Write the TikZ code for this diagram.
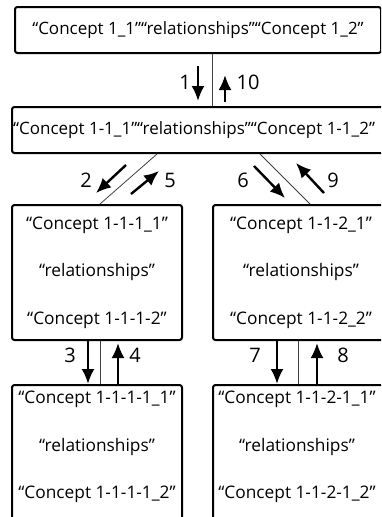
\documentclass[tikz,border=0pt]{standalone}
\usepackage{fontspec}
\setmainfont{Open Sans}
\usetikzlibrary{arrows.meta, positioning}

\begin{document}
\begin{tikzpicture}[x=1pt, y=-1pt, font=\fontsize{17}{20}\selectfont,
  box/.style={draw, line width=2pt, rounded corners=2.5pt, inner sep=0pt},
  three/.style={align=center, font=\fontsize{17.3}{47.5}\selectfont},
  link/.style={line width=0.8pt, black!75},
  flow/.style={line width=2.4pt, -{Latex[length=15pt, width=13pt]}},
  num/.style={font=\fontsize{20}{24}\selectfont}]

  \useasboundingbox (0,0) rectangle (381,517);
  \clip (0,0) rectangle (381,517);

  \node[box, minimum width=366pt, minimum height=46pt] (c1) at (198,30) {“Concept 1\_1”“relationships”“Concept 1\_2”};
  \node[box, minimum width=378pt, minimum height=46pt] (c11) at (201,130) {};
  \node[anchor=west, inner sep=0pt] (t11) at (13,130) {“Concept 1-1\_1”“relationships”“Concept 1-1\_2”};

  \node[box, three, minimum width=170pt, minimum height=135pt] (c111) at (97,272.5) {“Concept 1-1-1\_1”\\“relationships”\\“Concept 1-1-1-2”};
  \node[box, three, minimum width=176pt, minimum height=135pt] (c112) at (301,272.5) {“Concept 1-1-2\_1”\\“relationships”\\“Concept 1-1-2\_2”};

  \node[box, minimum width=170pt, minimum height=160pt] (c1111) at (97,465) {};
  \node[three] (t1111) at (97,447) {“Concept 1-1-1-1\_1”\\“relationships”\\“Concept 1-1-1-1\_2”};
  \node[box, minimum width=176pt, minimum height=160pt] (c1121) at (301,465) {};
  \node[three] (t1121) at (297,447) {“Concept 1-1-2-1\_1”\\“relationships”\\“Concept 1-1-2-1\_2”};

  \draw[link] (c1.south -| 212,0) -- (c11.north -| 212,0);
  \draw[link] (c11.south -| 157,0) -- (c111.north -| 100,0);
  \draw[link] (c11.south -| 260,0) -- (c112.north -| 310,0);
  \draw[link] (c111.south -| 100,0) -- (c1111.north -| 100,0);
  \draw[link] (c112.south -| 298,0) -- (c1121.north -| 298,0);

  \coordinate (a1s) at (198,66);  \coordinate (a1e) at (198,101);
  \coordinate (a10s) at (225,102); \coordinate (a10e) at (225,75);
  \coordinate (a2s) at (126,165); \coordinate (a2e) at (96,193);
  \coordinate (a5s) at (131,194); \coordinate (a5e) at (159,171);
  \coordinate (a6s) at (254,166); \coordinate (a6e) at (285,198);
  \coordinate (a9s) at (324,193); \coordinate (a9e) at (296,163);

  \draw[flow] (a1s) -- (a1e);
  \draw[flow] (a10s) -- (a10e);
  \draw[flow] (a2s) -- (a2e);
  \draw[flow] (a5s) -- (a5e);
  \draw[flow] (a6s) -- (a6e);
  \draw[flow] (a9s) -- (a9e);
  \draw[flow] (c111.south -| 88,0) -- (c1111.north -| 88,0);
  \draw[flow, shorten >=2pt] (c1111.north -| 118,0) -- (c111.south -| 118,0);
  \draw[flow] (c112.south -| 277,0) -- (c1121.north -| 277,0);
  \draw[flow, shorten >=2pt] (c1121.north -| 317,0) -- (c112.south -| 317,0);

  \node[num] (n1) at (185,82) {1};
  \node[num] (n10) at (248,82) {10};
  \node[num] (n2) at (86,180) {2};
  \node[num] (n5) at (170,180) {5};
  \node[num] (n6) at (243,180) {6};
  \node[num] (n9) at (333,180) {9};
  \node[num] (n3) at (70,355) {3};
  \node[num] (n4) at (135,355) {4};
  \node[num] (n7) at (255,355) {7};
  \node[num] (n8) at (343,355) {8};
\end{tikzpicture}
\end{document}
